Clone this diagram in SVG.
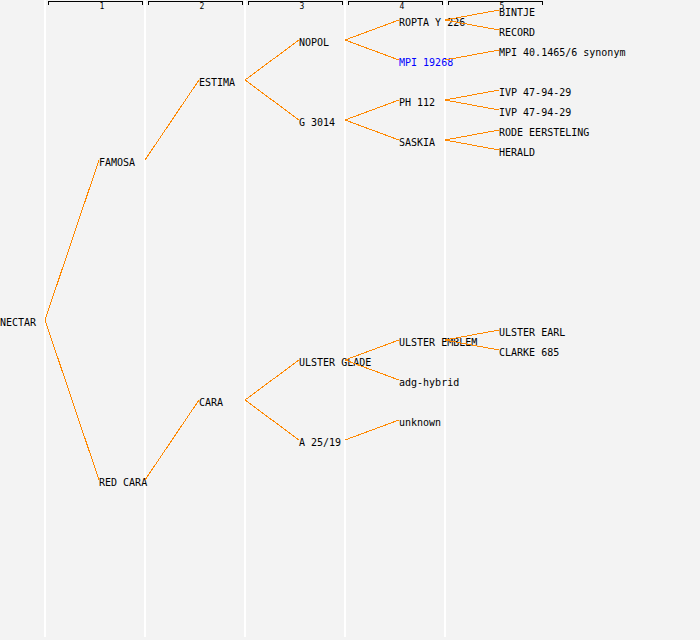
<svg xmlns="http://www.w3.org/2000/svg" width="700" height="640" viewBox="0 0 700 640">
<style>
.bg{fill:#f3f3f3}
.sep{stroke:#ffffff;stroke-width:1.5;shape-rendering:crispEdges}
.br{fill:none;stroke:#000;stroke-width:1;shape-rendering:crispEdges}
.hd{font-family:"DejaVu Sans Mono","Liberation Mono",monospace;font-size:8px;fill:#000;text-anchor:middle}
.t{font-family:"DejaVu Sans Mono","Liberation Mono",monospace;font-size:10px;fill:#000}
.blue{fill:#0000ff}
.e{stroke:#ff8800;stroke-width:1;fill:none;shape-rendering:crispEdges}
</style>
<rect class="bg" x="0" y="0" width="700" height="640"/>
<g id="grid">
<line class="sep" x1="45" y1="0" x2="45" y2="637"/>
<line class="sep" x1="145" y1="0" x2="145" y2="637"/>
<line class="sep" x1="245" y1="0" x2="245" y2="637"/>
<line class="sep" x1="345" y1="0" x2="345" y2="637"/>
<line class="sep" x1="445" y1="0" x2="445" y2="637"/>
</g>
<g id="header">
<polyline class="br" points="48.5,4.5 48.5,1.5 142.5,1.5 142.5,4.5"/>
<polyline class="br" points="148.5,4.5 148.5,1.5 242.5,1.5 242.5,4.5"/>
<polyline class="br" points="248.5,4.5 248.5,1.5 342.5,1.5 342.5,4.5"/>
<polyline class="br" points="348.5,4.5 348.5,1.5 442.5,1.5 442.5,4.5"/>
<polyline class="br" points="448.5,4.5 448.5,1.5 542.5,1.5 542.5,4.5"/>
<text class="hd" x="102" y="9">1</text>
<text class="hd" x="202" y="9">2</text>
<text class="hd" x="302" y="9">3</text>
<text class="hd" x="402" y="9">4</text>
<text class="hd" x="502" y="9">5</text>
</g>
<g id="n-nectar"><text class="t" x="0" y="326">NECTAR</text></g>
<g id="n-famosa"><text class="t" x="99" y="166">FAMOSA</text></g>
<g id="n-redcara"><text class="t" x="99" y="486">RED CARA</text></g>
<g id="n-estima"><text class="t" x="199" y="86">ESTIMA</text></g>
<g id="n-cara"><text class="t" x="199" y="406">CARA</text></g>
<g id="n-nopol"><text class="t" x="299" y="46">NOPOL</text></g>
<g id="n-g3014"><text class="t" x="299" y="126">G 3014</text></g>
<g id="n-ulsterglade"><text class="t" x="299" y="366">ULSTER GLADE</text></g>
<g id="n-a2519"><text class="t" x="299" y="446">A 25/19</text></g>
<g id="n-ropta"><text class="t" x="399" y="26">ROPTA Y 226</text></g>
<g id="n-mpi19268"><text class="t blue" x="399" y="66">MPI 19268</text></g>
<g id="n-ph112"><text class="t" x="399" y="106">PH 112</text></g>
<g id="n-saskia"><text class="t" x="399" y="146">SASKIA</text></g>
<g id="n-ulsteremblem"><text class="t" x="399" y="346">ULSTER EMBLEM</text></g>
<g id="n-adg"><text class="t" x="399" y="386">adg-hybrid</text></g>
<g id="n-unknown"><text class="t" x="399" y="426">unknown</text></g>
<g id="n-bintje"><text class="t" x="499" y="16">BINTJE</text></g>
<g id="n-record"><text class="t" x="499" y="36">RECORD</text></g>
<g id="n-mpi40"><text class="t" x="499" y="56">MPI 40.1465/6 synonym</text></g>
<g id="n-ivp1"><text class="t" x="499" y="96">IVP 47-94-29</text></g>
<g id="n-ivp2"><text class="t" x="499" y="116">IVP 47-94-29</text></g>
<g id="n-rode"><text class="t" x="499" y="136">RODE EERSTELING</text></g>
<g id="n-herald"><text class="t" x="499" y="156">HERALD</text></g>
<g id="n-ulsterearl"><text class="t" x="499" y="336">ULSTER EARL</text></g>
<g id="n-clarke"><text class="t" x="499" y="356">CLARKE 685</text></g>
<g id="connectors">
<line class="e" x1="45" y1="320" x2="99" y2="160"/>
<line class="e" x1="45" y1="320" x2="99" y2="480"/>
<line class="e" x1="145" y1="160" x2="199" y2="80"/>
<line class="e" x1="145" y1="480" x2="199" y2="400"/>
<line class="e" x1="245" y1="80" x2="299" y2="40"/>
<line class="e" x1="245" y1="80" x2="299" y2="120"/>
<line class="e" x1="245" y1="400" x2="299" y2="360"/>
<line class="e" x1="245" y1="400" x2="299" y2="440"/>
<line class="e" x1="345" y1="40" x2="399" y2="20"/>
<line class="e" x1="345" y1="40" x2="399" y2="60"/>
<line class="e" x1="345" y1="120" x2="399" y2="100"/>
<line class="e" x1="345" y1="120" x2="399" y2="140"/>
<line class="e" x1="345" y1="360" x2="399" y2="340"/>
<line class="e" x1="345" y1="360" x2="399" y2="380"/>
<line class="e" x1="345" y1="440" x2="399" y2="420"/>
<line class="e" x1="445" y1="20" x2="499" y2="10"/>
<line class="e" x1="445" y1="20" x2="499" y2="30"/>
<line class="e" x1="445" y1="60" x2="499" y2="50"/>
<line class="e" x1="445" y1="100" x2="499" y2="90"/>
<line class="e" x1="445" y1="100" x2="499" y2="110"/>
<line class="e" x1="445" y1="140" x2="499" y2="130"/>
<line class="e" x1="445" y1="140" x2="499" y2="150"/>
<line class="e" x1="445" y1="340" x2="499" y2="330"/>
<line class="e" x1="445" y1="340" x2="499" y2="350"/>
</g>
</svg>
